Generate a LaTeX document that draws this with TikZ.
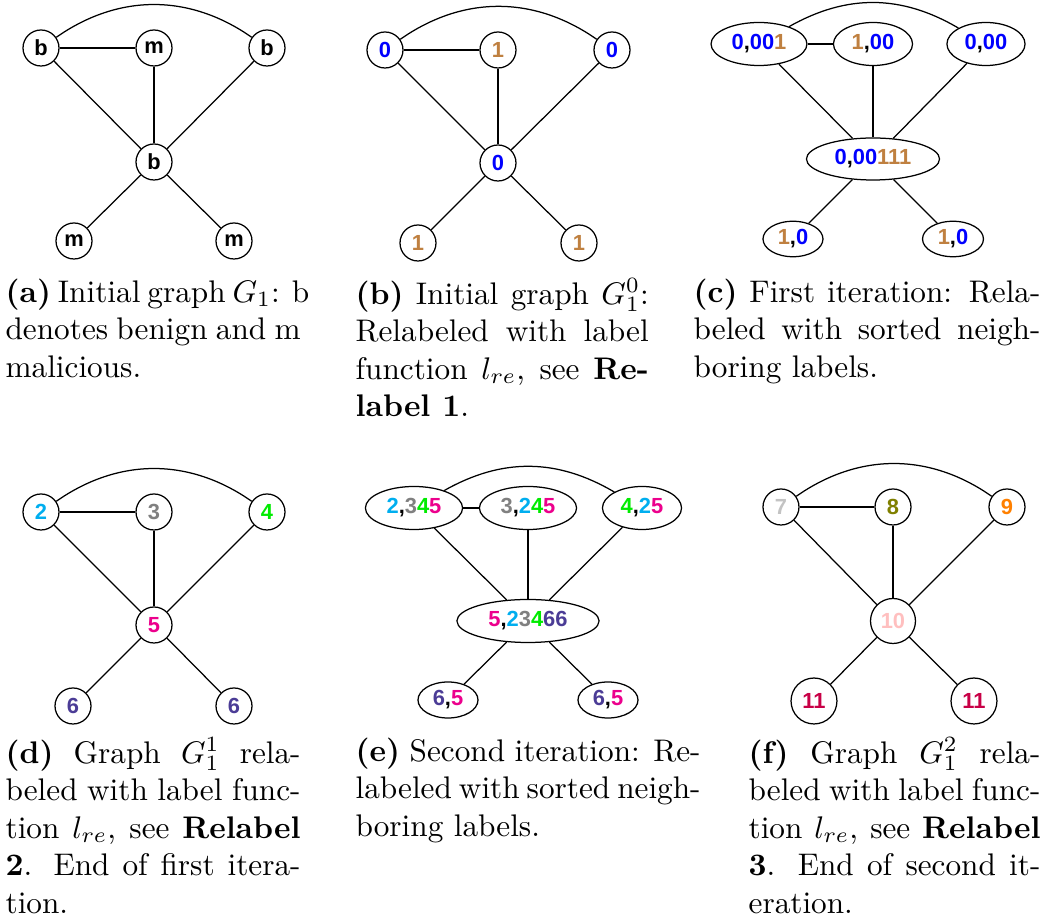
\documentclass[tikz,border=0pt]{standalone}
\usepackage{fontspec}
\newfontfamily\nf{Liberation Sans}
\usetikzlibrary{shapes.geometric}
\definecolor{cBl}{RGB}{0,0,255}
\definecolor{cBr}{RGB}{191,128,64}
\definecolor{cCy}{RGB}{0,174,239}
\definecolor{cGy}{RGB}{128,128,128}
\definecolor{cGn}{RGB}{0,235,0}
\definecolor{cMg}{RGB}{236,0,140}
\definecolor{cPu}{RGB}{75,60,150}
\definecolor{cLg}{RGB}{195,195,195}
\definecolor{cOl}{RGB}{128,128,0}
\definecolor{cOr}{RGB}{255,128,0}
\definecolor{cPk}{RGB}{255,191,191}
\definecolor{cCr}{RGB}{200,0,70}
\newcommand\tBl[1]{\textcolor{cBl}{#1}}
\newcommand\tBr[1]{\textcolor{cBr}{#1}}
\newcommand\tCy[1]{\textcolor{cCy}{#1}}
\newcommand\tGy[1]{\textcolor{cGy}{#1}}
\newcommand\tGn[1]{\textcolor{cGn}{#1}}
\newcommand\tMg[1]{\textcolor{cMg}{#1}}
\newcommand\tPu[1]{\textcolor{cPu}{#1}}
\newcommand\jl[2]{\makebox[#1][s]{#2}}
\begin{document}
\begin{tikzpicture}[x=0.32pt,y=-0.32pt,
  lbl/.style={font=\nf\bfseries\fontsize{7}{8}\selectfont},
  vtx/.style={lbl,circle,draw,line width=0.4pt,minimum size=11.52pt,inner sep=0pt},
  ell/.style={lbl,ellipse,draw,line width=0.4pt,inner sep=0pt,minimum height=13.76pt},
  lnk/.style={line width=0.4pt},
  bendarc/.style={line width=0.4pt,bend left=35},
  bendarce/.style={line width=0.4pt,bend left=30},
  captxt/.style={inner sep=0pt,anchor=north west,align=left,font=\fontsize{10}{12}\selectfont}]
\useasboundingbox (0,0) rectangle (1047,923);
% ---------- (a)
\node[vtx] (a1) at (41,48) {b};
\node[vtx] (a2) at (154,48) {m};
\node[vtx] (a3) at (267,48) {b};
\node[vtx] (a4) at (154,162) {b};
\node[vtx] (a5) at (74,241) {m};
\node[vtx] (a6) at (234,241) {m};
\draw[lnk] (a1) -- (a2); \draw[lnk] (a1) -- (a4); \draw[lnk] (a2) -- (a4);
\draw[lnk] (a3) -- (a4); \draw[lnk] (a4) -- (a5); \draw[lnk] (a4) -- (a6);
\draw[bendarc] (a1) to (a3);
% ---------- (b)
\node[vtx] (b1) at (385,50) {\tBl{0}};
\node[vtx] (b2) at (498,50) {\tBr{1}};
\node[vtx] (b3) at (612,50) {\tBl{0}};
\node[vtx] (b4) at (498,163) {\tBl{0}};
\node[vtx] (b5) at (418,243) {\tBr{1}};
\node[vtx] (b6) at (579,243) {\tBr{1}};
\draw[lnk] (b1) -- (b2); \draw[lnk] (b1) -- (b4); \draw[lnk] (b2) -- (b4);
\draw[lnk] (b3) -- (b4); \draw[lnk] (b4) -- (b5); \draw[lnk] (b4) -- (b6);
\draw[bendarc] (b1) to (b3);
% ---------- (c)
\node[ell,minimum width=30.7pt] (c1) at (759,44) {\tBl{0},\tBl{00}\tBr{1}};
\node[ell,minimum width=25.3pt] (c2) at (873,44) {\tBr{1},\tBl{00}};
\node[ell,minimum width=25pt] (c3) at (986,44) {\tBl{0},\tBl{00}};
\node[ell,minimum width=42.6pt,minimum height=13.44pt] (c4) at (873,159) {\tBl{0},\tBl{00}\tBr{111}};
\node[ell,minimum width=19.2pt,minimum height=11.35pt] (c5) at (793,239) {\tBr{1},\tBl{0}};
\node[ell,minimum width=19.5pt,minimum height=11.35pt] (c6) at (953,239) {\tBr{1},\tBl{0}};
\draw[lnk] (c1) -- (c2); \draw[lnk] (c1) -- (c4); \draw[lnk] (c2) -- (c4);
\draw[lnk] (c3) -- (c4); \draw[lnk] (c4) -- (c5); \draw[lnk] (c4) -- (c6);
\draw[bendarce] (c1) to (c3);
% ---------- (d)
\node[vtx] (d1) at (41,512) {\tCy{2}};
\node[vtx] (d2) at (154,512) {\tGy{3}};
\node[vtx] (d3) at (267,512) {\tGn{4}};
\node[vtx] (d4) at (154,625) {\tMg{5}};
\node[vtx] (d5) at (73,706) {\tPu{6}};
\node[vtx] (d6) at (234,706) {\tPu{6}};
\draw[lnk] (d1) -- (d2); \draw[lnk] (d1) -- (d4); \draw[lnk] (d2) -- (d4);
\draw[lnk] (d3) -- (d4); \draw[lnk] (d4) -- (d5); \draw[lnk] (d4) -- (d6);
\draw[bendarc] (d1) to (d3);
% ---------- (e)
\node[ell,minimum width=31.1pt] (e1) at (414,508) {\tCy{2},\tGy{3}\tGn{4}\tMg{5}};
\node[ell,minimum width=31.1pt] (e2) at (528,508) {\tGy{3},\tCy{2}\tGn{4}\tMg{5}};
\node[ell,minimum width=25.3pt] (e3) at (642,508) {\tGn{4},\tCy{2}\tMg{5}};
\node[ell,minimum width=45.5pt] (e4) at (528,621) {\tMg{5},\tCy{2}\tGy{3}\tGn{4}\tPu{66}};
\node[ell,minimum width=19.2pt,minimum height=11.52pt] (e5) at (448,700) {\tPu{6},\tMg{5}};
\node[ell,minimum width=19.2pt,minimum height=11.52pt] (e6) at (608,700) {\tPu{6},\tMg{5}};
\draw[lnk] (e1) -- (e2); \draw[lnk] (e1) -- (e4); \draw[lnk] (e2) -- (e4);
\draw[lnk] (e3) -- (e4); \draw[lnk] (e4) -- (e5); \draw[lnk] (e4) -- (e6);
\draw[bendarce] (e1) to (e3);
% ---------- (f)
\node[vtx] (f1) at (781,507) {\textcolor{cLg}{7}};
\node[vtx] (f2) at (893,507) {\textcolor{cOl}{8}};
\node[vtx] (f3) at (1007,507) {\textcolor{cOr}{9}};
\node[vtx,minimum size=14.4pt] (f4) at (893,621) {\textcolor{cPk}{10}};
\node[vtx,minimum size=14.7pt] (f5) at (814,701) {\textcolor{cCr}{11}};
\node[vtx,minimum size=14.7pt] (f6) at (974,701) {\textcolor{cCr}{11}};
\draw[lnk] (f1) -- (f2); \draw[lnk] (f1) -- (f4); \draw[lnk] (f2) -- (f4);
\draw[lnk] (f3) -- (f4); \draw[lnk] (f4) -- (f5); \draw[lnk] (f4) -- (f6);
\draw[bendarc] (f1) to (f3);
% ---------- captions
\node[captxt] (capa) at (5,278) {\jl{94.4pt}{\textbf{(a)} Initial graph $G_1$: b}\\
  \jl{94.4pt}{denotes benign and m}\\ malicious.};
\node[captxt] (capb) at (355,278) {\jl{93.8pt}{\textbf{(b)} Initial graph $G_1^0$:}\\
  \jl{93.8pt}{Relabeled with label}\\
  \jl{93.8pt}{function $l_{re}$, see \textbf{Re-}}\\ \textbf{label 1}.};
\node[captxt] (capc) at (693,278) {\jl{111pt}{\textbf{(c)} First iteration: Rela-}\\
  \jl{111pt}{beled with sorted neigh-}\\ boring labels.};
\node[captxt] (capd) at (5,737) {\jl{94.4pt}{\textbf{(d)} Graph $G_1^1$ rela-}\\
  \jl{94.4pt}{beled with label func-}\\
  \jl{94.4pt}{tion $l_{re}$, see \textbf{Relabel}}\\
  \jl{94.4pt}{\textbf{2}. End of first itera-}\\ tion.};
\node[captxt] (cape) at (355,737) {\jl{110.4pt}{\textbf{(e)} Second iteration: Re-}\\
  \jl{110.4pt}{labeled with sorted neigh-}\\ boring labels.};
\node[captxt] (capf) at (748,737) {\jl{93.4pt}{\textbf{(f)} Graph $G_1^2$ rela-}\\
  \jl{93.4pt}{beled with label func-}\\
  \jl{93.4pt}{tion $l_{re}$, see \textbf{Relabel}}\\
  \jl{93.4pt}{\textbf{3}. End of second it-}\\ eration.};
\end{tikzpicture}
\end{document}
